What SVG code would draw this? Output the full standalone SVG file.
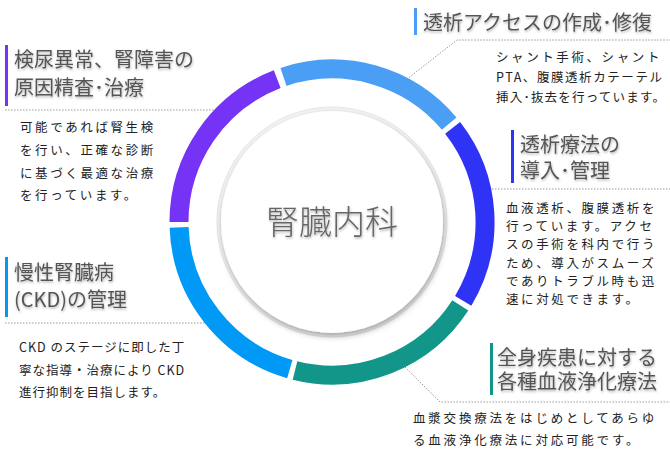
<svg xmlns="http://www.w3.org/2000/svg" width="670" height="455" viewBox="0 0 670 455">
<defs>
<style>
.t{font-family:"Noto Sans CJK JP","Noto Sans",sans-serif;font-size:20px;fill:#555;filter:url(#ts)}
.d{font-family:"Noto Sans CJK JP","Noto Sans",sans-serif;font-size:12.5px;fill:#222;letter-spacing:2.6px}
.seg{fill:none;stroke-width:19}
.dot{fill:none;stroke:#999;stroke-width:1;stroke-dasharray:1.5 1.5}
</style>
<filter id="ts" x="-5%" y="-20%" width="110%" height="150%"><feDropShadow dx="0.5" dy="1.5" stdDeviation="1" flood-color="#000" flood-opacity="0.3"/></filter>
<filter id="sh" x="-20%" y="-20%" width="140%" height="140%"><feDropShadow dx="1" dy="3" stdDeviation="3" flood-color="#000" flood-opacity="0.35"/></filter>
</defs>
<rect width="670" height="455" fill="#fff"/>
<g id="connectors">
<path class="dot" d="M5 110H225"/>
<path class="dot" d="M402 83L457 40H670"/>
<path class="dot" d="M483 189H670"/>
<path class="dot" d="M5 323H218"/>
<path class="dot" d="M405 367L440 402H670"/>
</g>
<g id="ring">
<path class="seg" stroke="#4a9ff5" d="M283.5 76.9A153 153 0 0 1 449.2 123.6"/>
<path class="seg" stroke="#2f33f5" d="M452.6 127.8A153 153 0 0 1 463.2 300.8"/>
<path class="seg" stroke="#12968a" d="M460.3 305.3A153 153 0 0 1 295.0 370.5"/>
<path class="seg" stroke="#0099f5" d="M289.8 369.1A153 153 0 0 1 179.1 227.3"/>
<path class="seg" stroke="#7433f5" d="M179 222A153 153 0 0 1 277.2 79.2"/>
</g>
<g id="center">
<circle cx="332" cy="222" r="115" fill="#f4f4f4" stroke="#e6e6e6" stroke-width="1"/>
<circle cx="332" cy="222" r="111" fill="#fff" filter="url(#sh)"/>
<text x="332" y="234" text-anchor="middle" font-family="'Noto Sans CJK JP',sans-serif" font-weight="300" font-size="33" fill="#666" style="filter:url(#ts)">腎臓内科</text>
</g>
<g id="n1">
<rect x="5" y="45" width="3" height="61" fill="#7433f5"/>
<text class="t" x="14" y="67">検尿異常、腎障害の</text>
<text class="t" x="14" y="95">原因精査･治療</text>
<text class="d" x="20" y="132">可能であれば腎生検</text>
<text class="d" x="20" y="155">を行い、正確な診断</text>
<text class="d" x="20" y="178">に基づく最適な治療</text>
<text class="d" x="20" y="200">を行っています。</text>
</g>
<g id="n2">
<rect x="414" y="8" width="3" height="27" fill="#4a9ff5"/>
<text class="t" x="423" y="30">透析アクセスの作成･修復</text>
<text class="d" x="496" y="62" textLength="166" lengthAdjust="spacing">シャント手術、シャント</text>
<text class="d" x="496" y="82" textLength="166" lengthAdjust="spacing" style="letter-spacing:0">PTA、腹膜透析カテーテル</text>
<text class="d" x="496" y="102" textLength="169" lengthAdjust="spacing" style="letter-spacing:0">挿入･抜去を行っています。</text>
</g>
<g id="n3">
<rect x="511" y="130" width="3" height="53" fill="#2f33f5"/>
<text class="t" x="520" y="152">透析療法の</text>
<text class="t" x="520" y="178">導入･管理</text>
<text class="d" x="506" y="213">血液透析、腹膜透析を</text>
<text class="d" x="506" y="231">行っています。アクセ</text>
<text class="d" x="506" y="249">スの手術を科内で行う</text>
<text class="d" x="506" y="268">ため、導入がスムーズ</text>
<text class="d" x="506" y="286">でありトラブル時も迅</text>
<text class="d" x="506" y="304">速に対処できます。</text>
</g>
<g id="n4">
<rect x="5" y="257" width="3" height="60" fill="#0099f5"/>
<text class="t" x="14" y="280">慢性腎臓病</text>
<text class="t" x="14" y="307">(CKD)の管理</text>
<text class="d" x="19" y="352" style="letter-spacing:1px">CKD のステージに即した丁</text>
<text class="d" x="19" y="375" style="letter-spacing:1px">寧な指導・治療により CKD</text>
<text class="d" x="19" y="397" style="letter-spacing:1px">進行抑制を目指します。</text>
</g>
<g id="n5">
<rect x="490" y="343" width="3" height="52" fill="#12968a"/>
<text class="t" x="497" y="365">全身疾患に対する</text>
<text class="t" x="497" y="389">各種血液浄化療法</text>
<text class="d" x="413" y="423" style="letter-spacing:2.8px">血漿交換療法をはじめとしてあらゆ</text>
<text class="d" x="413" y="445" style="letter-spacing:2.8px">る血液浄化療法に対応可能です。</text>
</g>
</svg>
